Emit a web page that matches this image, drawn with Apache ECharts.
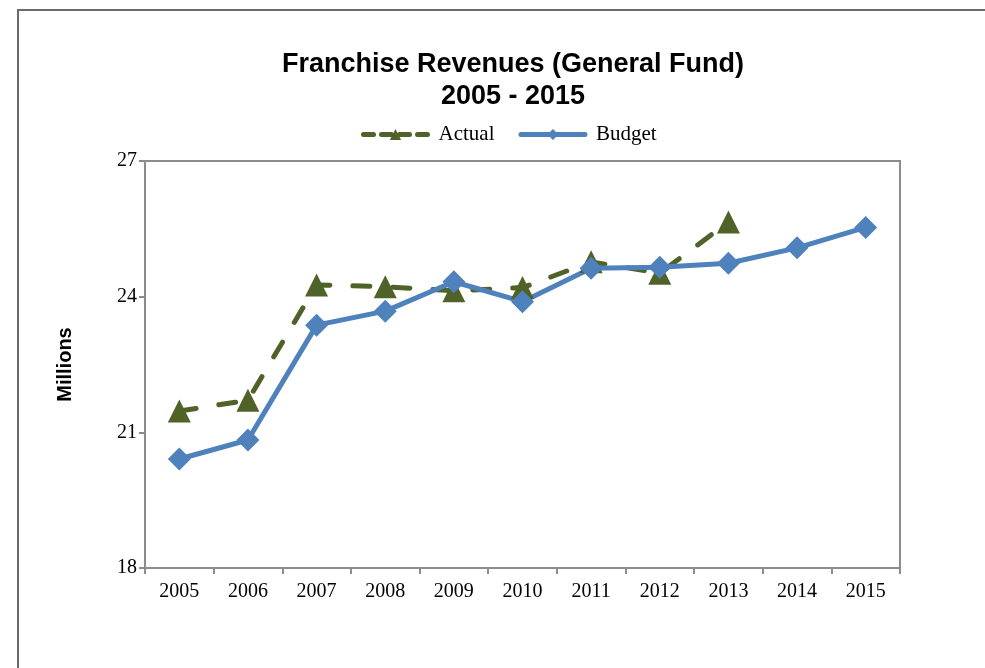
<!DOCTYPE html>
<html>
<head>
<meta charset="utf-8">
<script src="https://cdn.jsdelivr.net/npm/echarts@6/dist/echarts.min.js"></script>
<style>
html, body { margin: 0; padding: 0; background: #fff; }
#echarts { width: 985px; height: 668px; }
</style>
</head>
<body>
<div id="echarts"></div>
<script>
var years = ['2005', '2006', '2007', '2008', '2009', '2010', '2011', '2012', '2013', '2014', '2015'];
var actual = [21.47, 21.71, 24.26, 24.22, 24.13, 24.2, 24.77, 24.52, 25.65, null, null];
var budget = [20.41, 20.83, 23.37, 23.68, 24.33, 23.89, 24.63, 24.65, 24.74, 25.08, 25.53];
var yTicks = [18, 21, 24, 27];

var myChart = echarts.init(document.getElementById('echarts'));

var option = {
    animation: false,
    title: {
        text: 'Franchise Revenues (General Fund)\n2005 - 2015',
        left: 508,
        top: 44,
        textAlign: 'center',
        textStyle: {
            fontFamily: 'Liberation Sans, Arial, sans-serif',
            fontWeight: 'bold',
            fontSize: 27,
            lineHeight: 32,
            color: '#000'
        }
    },
    legend: {
        data: [{
            name: 'Actual',
            lineStyle: { width: 5, type: [10, 8], cap: 'round' }
        }, {
            name: 'Budget',
            lineStyle: { width: 5, cap: 'round' }
        }],
        left: 361,
        top: 124,
        padding: 0,
        itemWidth: 64,
        itemHeight: 14,
        itemGap: 24,
        textStyle: {
            fontFamily: 'Liberation Serif, Times New Roman, serif',
            fontSize: 21,
            color: '#000',
            padding: [0, 0, 0, 6]
        }
    },
    graphic: [{
        type: 'rect',
        shape: { x: 18, y: 10, width: 1000, height: 700 },
        style: { fill: 'none', stroke: '#6b6b6b', lineWidth: 2 },
        silent: true
    }],
    grid: {
        left: 145,
        right: 85,
        top: 161,
        bottom: 100,
        show: true,
        borderColor: '#8c8c8c',
        borderWidth: 2
    },
    xAxis: {
        type: 'category',
        data: years,
        boundaryGap: true,
        axisLine: { lineStyle: { color: '#8c8c8c', width: 2 } },
        axisTick: { show: true, length: 6, interval: 0, lineStyle: { color: '#8c8c8c', width: 2 } },
        axisLabel: {
            interval: 0,
            margin: 14,
            fontFamily: 'Liberation Serif, Times New Roman, serif',
            fontSize: 20,
            color: '#000'
        },
        splitLine: { show: false }
    },
    yAxis: {
        type: 'value',
        min: yTicks[0],
        max: yTicks[yTicks.length - 1],
        interval: 3,
        name: 'Millions',
        nameLocation: 'middle',
        nameRotate: 90,
        nameGap: 70,
        nameTextStyle: {
            fontFamily: 'Liberation Sans, Arial, sans-serif',
            fontWeight: 'bold',
            fontSize: 20,
            color: '#000'
        },
        axisLine: { show: true, lineStyle: { color: '#8c8c8c', width: 2 } },
        axisTick: { show: true, length: 6, lineStyle: { color: '#8c8c8c', width: 2 } },
        axisLabel: {
            margin: 8,
            fontFamily: 'Liberation Serif, Times New Roman, serif',
            fontSize: 20,
            color: '#000'
        },
        splitLine: { show: false }
    },
    series: [{
        name: 'Actual',
        type: 'line',
        data: actual,
        symbol: 'triangle',
        symbolSize: 23,
        connectNulls: false,
        itemStyle: { color: '#4f6228' },
        lineStyle: { color: '#4f6228', width: 5, type: [17, 23], cap: 'round' }
    }, {
        name: 'Budget',
        type: 'line',
        data: budget,
        symbol: 'diamond',
        symbolSize: 23,
        itemStyle: { color: '#4f81bd' },
        lineStyle: { color: '#4f81bd', width: 5 }
    }]
};
myChart.setOption(option);
</script>
</body>
</html>
